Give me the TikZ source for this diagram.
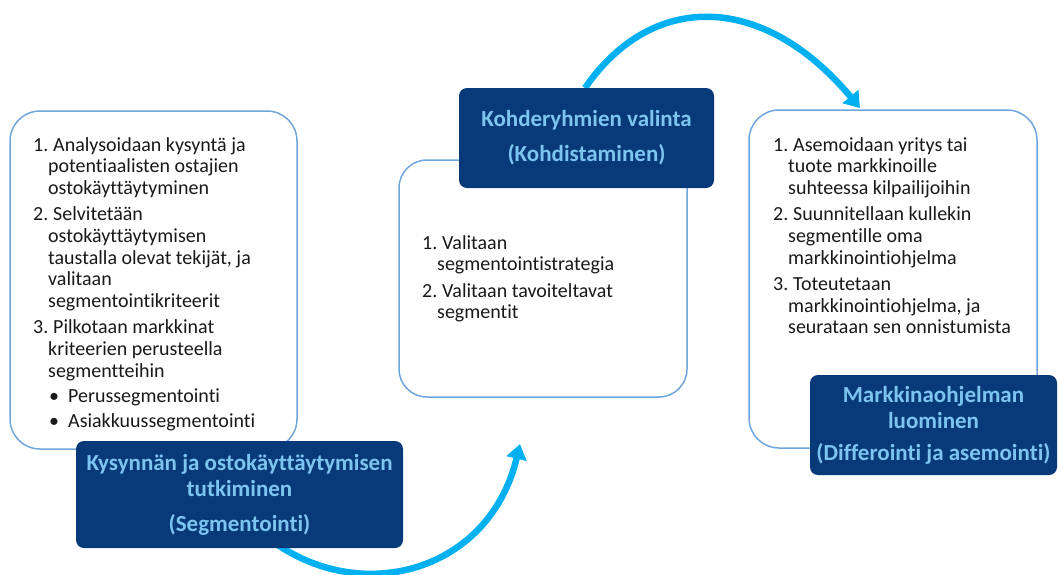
\documentclass[tikz,border=0pt]{standalone}
\usepackage{fontspec}
\setmainfont{Carlito}[Ligatures=NoCommon]
\usetikzlibrary{arrows.meta}

\definecolor{navy}{RGB}{8,58,122}
\definecolor{skytext}{RGB}{125,196,240}
\definecolor{frame}{RGB}{112,166,222}
\definecolor{cyanarrow}{RGB}{0,176,240}
\definecolor{ink}{RGB}{25,25,25}

% numbered item with hanging indent; lines are broken by hand with \\
\newcommand{\nitem}[2]{\hangindent=15pt\hangafter=1\noindent\makebox[20pt][l]{#1}#2\par}
% bulleted sub-item
\newcommand{\bitem}[1]{\noindent\hspace*{16pt}\makebox[19pt][l]{\textbullet}#1\par}
\newcommand{\bodyset}{\fontsize{20}{21.7}\selectfont\setlength{\parskip}{4.6pt}\setlength{\parindent}{0pt}}

\tikzset{
  lightbox/.style={draw=frame, line width=1.5pt, fill=white, rounded corners=30pt, inner sep=0pt},
  darkbox/.style={fill=navy, rounded corners=8pt, text=skytext, align=center,
    font=\fontsize{23}{26}\selectfont\bfseries, inner sep=0pt},
  listtext/.style={anchor=base west, inner sep=0pt, text=ink},
  flow/.style={draw=cyanarrow, line width=6.5pt, -{Triangle[width=20pt,length=15pt]}}
}

\begin{document}
\begin{tikzpicture}[x=1pt,y=-1pt]
\useasboundingbox (0,0) rectangle (1058,574);

% outlined content boxes
\node[lightbox, minimum width=287pt, minimum height=338pt] (segbox) at (153.5,280) {};
\node[lightbox, minimum width=288pt, minimum height=237pt, rounded corners=28pt] (tgtbox) at (543,278.5) {};
\node[lightbox, minimum width=288pt, minimum height=338pt] (mixbox) at (893,279) {};

% list texts
\node[listtext] (segtext) at (33,151) {\parbox[t]{265pt}{\bodyset
  \nitem{1.}{Analysoidaan kysyntä ja\\potentiaalisten ostajien\\ostokäyttäytyminen}
  \nitem{2.}{Selvitetään\\ostokäyttäytymisen\\taustalla olevat tekijät, ja\\valitaan\\segmentointikriteerit}
  \nitem{3.}{Pilkotaan markkinat\\kriteerien perusteella\\segmentteihin}
  \setlength{\parskip}{3.3pt}
  \bitem{Perussegmentointi}
  \bitem{Asiakkuussegmentointi}}};

\node[listtext] (tgttext) at (422,249) {\parbox[t]{260pt}{\bodyset
  \nitem{1.}{Valitaan\\segmentointistrategia}
  \nitem{2.}{Valitaan tavoiteltavat\\segmentit}}};

\node[listtext] (mixtext) at (773,151) {\parbox[t]{270pt}{\bodyset
  \nitem{1.}{Asemoidaan yritys tai\\tuote markkinoille\\suhteessa kilpailijoihin}
  \nitem{2.}{Suunnitellaan kullekin\\segmentille oma\\markkinointiohjelma}
  \nitem{3.}{Toteutetaan\\markkinointiohjelma, ja\\seurataan sen onnistumista}}};

% curved flow arrows
\coordinate (flowAs) at (275,543);
\coordinate (flowAe) at (520,444);
\coordinate (flowBs) at (585,88);
\coordinate (flowBe) at (860,108);
\draw[flow] (flowAs) .. controls (365,606) and (490,570) .. (flowAe);
\draw[flow] (flowBs) .. controls (651,-8) and (762,-9) .. (flowBe);

% stage headers
\node[darkbox, minimum width=327pt, minimum height=107pt] (seghead) at (239.5,494.5)
  {Kysynnän ja ostokäyttäytymisen\\tutkiminen\\[9pt](Segmentointi)};
\node[darkbox, minimum width=255pt, minimum height=100pt] (tgthead) at (586.5,138)
  {Kohderyhmien valinta\\[9pt](Kohdistaminen)};
\node[darkbox, minimum width=247pt, minimum height=100pt] (mixhead) at (933.5,425)
  {Markkinaohjelman\\luominen\\[6pt](Differointi ja asemointi)};
\end{tikzpicture}
\end{document}
